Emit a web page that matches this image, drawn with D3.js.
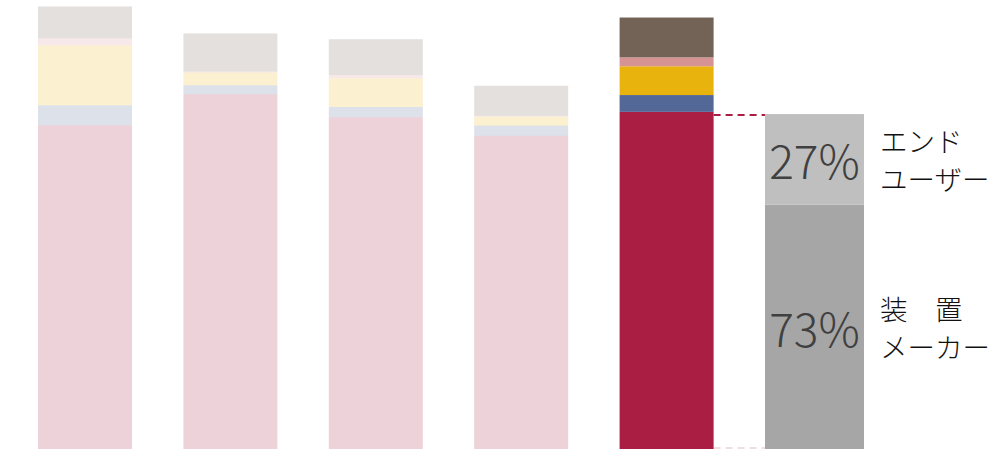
<!DOCTYPE html>
<html>
<head>
<meta charset="utf-8">
<script src="https://cdn.jsdelivr.net/npm/d3@7"></script>
<style>
  body { margin: 0; background: #fff; }
  svg { display: block; }
</style>
</head>
<body>
<svg id="chart"></svg>
<script>
// data, bottom segment first
var categories = ["c1", "c2", "c3", "c4", "c5"];
var seriesKeys = ["main", "blue", "gold", "pink", "brown"];
var mainVals  = [73.1, 80.1, 74.9, 70.7, 76.1];
var blueVals  = [4.5, 2.0, 2.3, 2.3, 3.8];
var goldVals  = [13.5, 2.9, 6.5, 2.0, 6.5];
var pinkVals  = [1.6, 0.2, 0.7, 0.2, 2.0];
var brownVals = [7.2, 8.6, 8.1, 6.8, 9.0];
var shareLabels = [["装　置", "メーカー"], ["エンド", "ユーザー"]];
var shareVals = [73, 27];
var shareTotal = 75.6;

var w = 1006;
var h = 449;
var colors = {main: "#A91E42", blue: "#536897", gold: "#E9B30E", pink: "#D59393", brown: "#736357"};
var shareColors = ["#A6A6A6", "#BFBFBF"];

var rows = categories.map(function(c, i){
  return {cat: c, main: mainVals[i], blue: blueVals[i], gold: goldVals[i], pink: pinkVals[i], brown: brownVals[i]};
});

var svg = d3.select("#chart").attr("width", w).attr("height", h);

var x = d3.scaleBand()
  .domain(categories.concat(["share"]))
  .range([38, 859])
  .paddingInner(0.3535)
  .paddingOuter(0);

var y = d3.scaleLinear()
  .domain([0, 100])
  .range([449, 6]);

var stacked = d3.stack().keys(seriesKeys)(rows);
var last = categories[categories.length - 1];

svg.append("g").selectAll("g")
  .data(stacked)
  .enter()
  .append("g")
    .attr("fill", function(d){ return colors[d.key]; })
  .selectAll("rect")
  .data(function(d){ return d; })
  .enter()
  .append("rect")
    .attr("x", function(d){ return x(d.data.cat); })
    .attr("y", function(d){ return y(d[1]); })
    .attr("width", x.bandwidth())
    .attr("height", function(d){ return y(d[0]) - y(d[1]); })
    .attr("opacity", function(d){ return d.data.cat === last ? 1 : 0.2; });

// breakdown of the last bar's bottom segment
var shareStack = [];
var acc = 0;
shareVals.forEach(function(v, i){
  var val = shareTotal * v / 100;
  shareStack.push({y0: acc, y1: acc + val, pct: v, label: shareLabels[i], color: shareColors[i]});
  acc += val;
});

var sx = x("share");
var sw = x.bandwidth() * 1.053;

var sg = svg.append("g").selectAll("g")
  .data(shareStack)
  .enter()
  .append("g");

sg.append("rect")
  .attr("x", sx)
  .attr("y", function(d){ return y(d.y1); })
  .attr("width", sw)
  .attr("height", function(d){ return y(d.y0) - y(d.y1); })
  .attr("fill", function(d){ return d.color; });

sg.append("text")
  .attr("x", sx + sw / 2)
  .attr("y", function(d){ return (y(d.y0) + y(d.y1)) / 2; })
  .attr("text-anchor", "middle")
  .attr("dominant-baseline", "central")
  .attr("font-family", "'Noto Sans CJK JP', 'Noto Sans', sans-serif")
  .attr("font-weight", 300)
  .attr("font-size", 46)
  .attr("fill", "#404040")
  .text(function(d){ return d.pct + "%"; });

sg.each(function(d){
  var mid = (y(d.y0) + y(d.y1)) / 2;
  d3.select(this).selectAll("text.lbl")
    .data(d.label)
    .enter()
    .append("text")
      .attr("class", "lbl")
      .attr("x", 880)
      .attr("y", function(l, i){ return mid - 19 + i * 38; })
      .attr("dominant-baseline", "central")
      .attr("font-family", "'Noto Sans CJK JP', sans-serif")
      .attr("font-weight", 300)
      .attr("font-size", 27.5)
      .attr("fill", "#111")
      .text(function(l){ return l; });
});

// connector lines
var x1 = x(last) + x.bandwidth();
svg.append("line")
  .attr("x1", x1).attr("x2", sx)
  .attr("y1", y(shareTotal) + 1).attr("y2", y(shareTotal) + 1)
  .attr("stroke", colors.main)
  .attr("stroke-width", 2)
  .attr("stroke-dasharray", "7,5");

svg.append("line")
  .attr("x1", x1).attr("x2", sx)
  .attr("y1", y(0) - 1).attr("y2", y(0) - 1)
  .attr("stroke", colors.main)
  .attr("stroke-opacity", 0.15)
  .attr("stroke-width", 2)
  .attr("stroke-dasharray", "7,5");
</script>
</body>
</html>
